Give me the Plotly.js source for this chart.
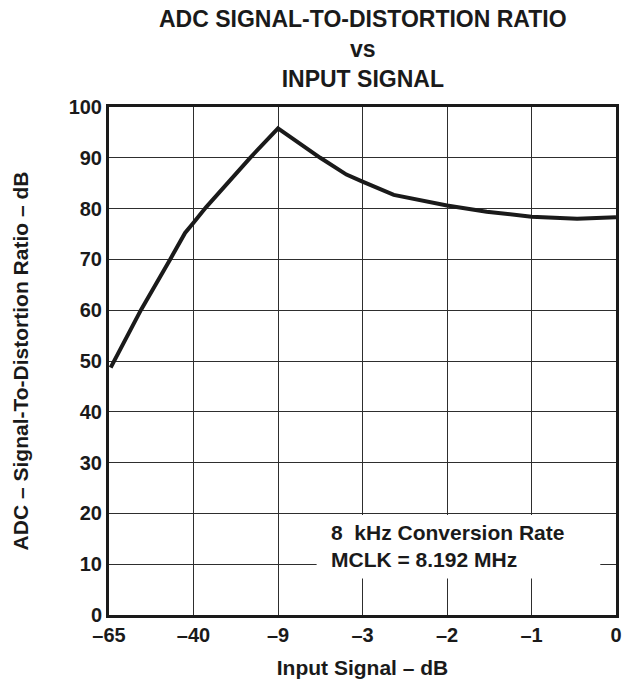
<!DOCTYPE html>
<html>
<head>
<meta charset="utf-8">
<script src="https://cdn.plot.ly/plotly-3.0.1.min.js"></script>
<style>html,body{margin:0;padding:0;background:#fff;}#chart{width:634px;height:684px;}</style>
</head>
<body>
<div id="chart"></div>
<script>
// Category tick labels (equally spaced on the axis)
const tickLabels = ['\u201365', '\u201340', '\u20139', '\u20133', '\u20132', '\u20131', '0'];
const tickPositions = [0, 1, 2, 3, 4, 5, 6];

// Curve: position along the category axis, SDR in dB
const curvePos = [0.02, 0.38, 0.72, 0.90, 1.00, 1.15, 1.67, 2.00, 2.50, 2.81, 3.00, 3.37, 4.00, 4.47, 5.00, 5.54, 6.00];
const curveSdr = [48.7, 60.1, 69.9, 75.2, 77.2, 80.3, 90.0, 95.8, 90.0, 86.7, 85.3, 82.7, 80.6, 79.4, 78.4, 78.0, 78.3];

const titleLines = ['ADC SIGNAL-TO-DISTORTION RATIO', 'vs', 'INPUT SIGNAL'];
const noteLines = ['8\u00a0 kHz Conversion Rate', 'MCLK = 8.192 MHz'];

const FONT = 'Liberation Sans, Arial, Helvetica, sans-serif';

const trace = {
  x: curvePos,
  y: curveSdr,
  type: 'scatter',
  mode: 'lines',
  line: {color: '#1a1a1a', width: 4},
  hoverinfo: 'skip'
};

const layout = {
  width: 634,
  height: 684,
  margin: {l: 109, r: 18, t: 107, b: 69},
  paper_bgcolor: '#ffffff',
  plot_bgcolor: '#ffffff',
  showlegend: false,
  font: {family: FONT, color: '#1a1a1a'},
  xaxis: {
    range: [0, 6],
    tickvals: tickPositions,
    ticktext: tickLabels,
    tickfont: {family: FONT, size: 20, color: '#1a1a1a', weight: 'bold'},
    showgrid: true,
    gridcolor: '#2e2e2e',
    gridwidth: 1,
    zeroline: false,
    showline: true,
    linecolor: '#1a1a1a',
    linewidth: 3,
    mirror: true,
    ticks: '',
    title: {text: '<b>Input Signal \u2013 dB</b>', font: {family: FONT, size: 21, color: '#1a1a1a'}, standoff: 16}
  },
  yaxis: {
    range: [0, 100],
    dtick: 10,
    tick0: 0,
    tickfont: {family: FONT, size: 20, color: '#1a1a1a', weight: 'bold'},
    showgrid: true,
    gridcolor: '#2e2e2e',
    gridwidth: 1,
    zeroline: false,
    showline: true,
    linecolor: '#1a1a1a',
    linewidth: 3,
    mirror: true,
    ticks: '',
    title: {text: '<b>ADC \u2013 Signal-To-Distortion Ratio \u2013 dB</b>', font: {family: FONT, size: 21, color: '#1a1a1a'}, standoff: 35}
  },
  shapes: [{
    type: 'rect', xref: 'x', yref: 'y', layer: 'above',
    x0: 2.457, x1: 5.814, y0: 7.2, y1: 19.7,
    fillcolor: '#ffffff', line: {width: 0}
  }],
  annotations: [{
    xref: 'paper', yref: 'paper', x: 0.5, y: 1,
    xanchor: 'center', yanchor: 'bottom', yshift: 13, align: 'center',
    showarrow: false,
    text: '<b>' + titleLines.join('<br>') + '</b>',
    font: {family: FONT, size: 23, color: '#1a1a1a'}
  }, {
    xref: 'x', yref: 'y', x: 2.60, y: 13.6,
    xanchor: 'left', yanchor: 'middle', align: 'left',
    showarrow: false,
    text: '<b>' + noteLines.join('<br>') + '</b>',
    font: {family: FONT, size: 21, color: '#1a1a1a'}
  }]
};

Plotly.newPlot('chart', [trace], layout, {displayModeBar: false, staticPlot: true});
</script>
</body>
</html>
